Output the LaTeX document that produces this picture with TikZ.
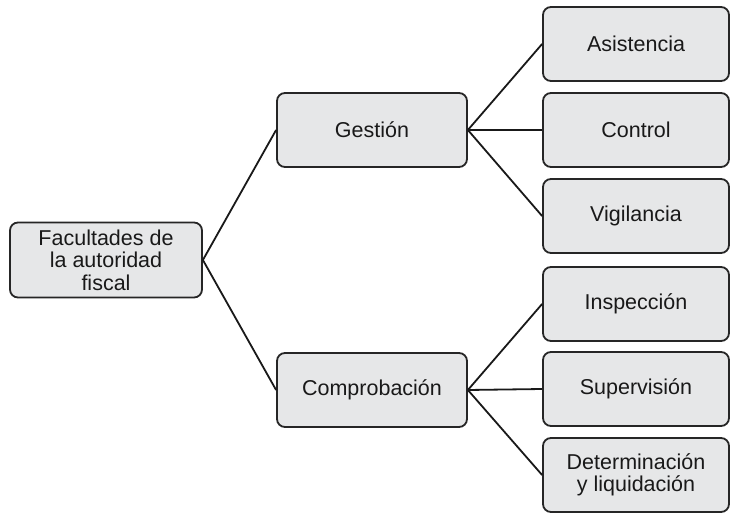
\documentclass[tikz,border=0pt]{standalone}
\usepackage{fontspec}
\setmainfont{Liberation Sans}
\definecolor{boxfill}{HTML}{E6E7E8}
\definecolor{boxline}{HTML}{262626}
\begin{document}
\begin{tikzpicture}[x=1pt,y=-1pt,
  box/.style={draw=boxline, fill=boxfill, line width=1.8pt, rounded corners=8pt,
    align=center, inner sep=0pt, font=\fontsize{21.5}{22.5}\selectfont, text=black!90},
  link/.style={draw=black!90, line width=1.8pt}]
\useasboundingbox (0,0) rectangle (731,513);
\node[box, minimum width=192, minimum height=75] (root) at (106,260) {Facultades de\\la autoridad\\fiscal};
\node[box, minimum width=190, minimum height=74] (ges) at (372,130) {Gestión};
\node[box, minimum width=190, minimum height=74] (com) at (372,390) {Comprobación};
\node[box, minimum width=186, minimum height=74] (asi) at (636,44) {Asistencia};
\node[box, minimum width=186, minimum height=74] (con) at (636,130) {Control};
\node[box, minimum width=186, minimum height=74] (vig) at (636,216) {Vigilancia};
\node[box, minimum width=186, minimum height=74] (ins) at (636,304) {Inspección};
\node[box, minimum width=186, minimum height=74] (sup) at (636,389) {Supervisión};
\node[box, minimum width=186, minimum height=74] (det) at (636,475) {Determinación\\y liquidación};
\draw[link] (root.east) -- (ges.west);
\draw[link] (root.east) -- (com.west);
\draw[link] (ges.east) -- (asi.west);
\draw[link] (ges.east) -- (con.west);
\draw[link] (ges.east) -- (vig.west);
\draw[link] (com.east) -- (ins.west);
\draw[link] (com.east) -- (sup.west);
\draw[link] (com.east) -- (det.west);
\end{tikzpicture}
\end{document}
